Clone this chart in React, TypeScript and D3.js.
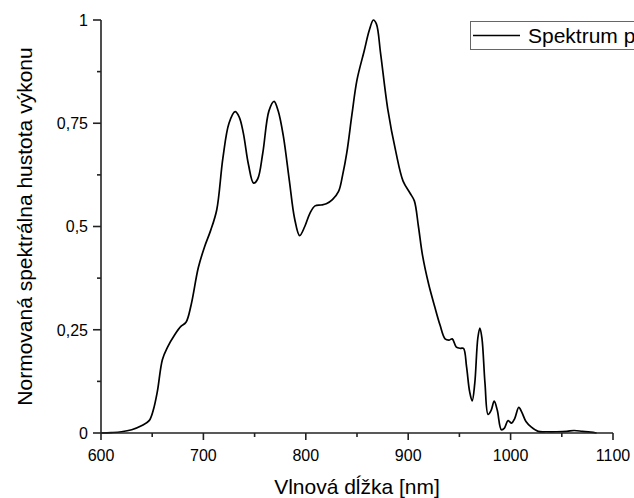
import React from "react";
import * as d3 from "d3";

const wavelengths = [
  600, 610, 620, 630, 640, 647, 651, 655, 660, 665, 672, 678, 683, 688, 695, 701, 707, 713, 719, 725,
  731, 735, 739, 744, 749, 753, 758, 764, 769, 773, 778, 784, 789, 794, 799, 804, 809, 815, 820, 826,
  832, 836, 840, 845, 850, 857, 862, 866, 869, 873, 880, 888, 895, 902, 906, 910, 914, 920, 926, 931, 936,
  940, 943, 947, 951, 954, 957, 960, 962.5, 965, 968, 970, 972, 975, 978, 981, 984, 987, 991, 994, 997.5,
  1001, 1004, 1008, 1011, 1015, 1020, 1027, 1035, 1045, 1055, 1062, 1070, 1078, 1084,
];
const power = [
  0.0, 0.001, 0.003, 0.008, 0.018, 0.03, 0.055, 0.1, 0.178, 0.208, 0.238, 0.258, 0.268, 0.31, 0.4, 0.45, 0.49, 0.54, 0.665, 0.75,
  0.778, 0.765, 0.726, 0.65, 0.605, 0.615, 0.678, 0.78, 0.803, 0.78, 0.72, 0.61, 0.52, 0.478, 0.5, 0.532, 0.55, 0.552, 0.555, 0.565,
  0.585, 0.625, 0.678, 0.77, 0.855, 0.925, 0.975, 1.0, 0.99, 0.92, 0.785, 0.68, 0.61, 0.58, 0.562, 0.5, 0.43, 0.36, 0.305, 0.262, 0.228,
  0.225, 0.228, 0.208, 0.205, 0.205, 0.16, 0.1, 0.078, 0.12, 0.23, 0.254, 0.23, 0.12, 0.045, 0.055, 0.077, 0.055, 0.008, 0.012, 0.03,
  0.024, 0.035, 0.062, 0.05, 0.028, 0.015, 0.004, 0.003, 0.003, 0.004, 0.006, 0.004, 0.002, 0.0,
];
const xTicks = [600, 700, 800, 900, 1000, 1100];
const xMinorTicks = [650, 750, 850, 950, 1050];
const yTicks = [0, 0.25, 0.5, 0.75, 1];
const yTickLabels = ["0", "0,25", "0,5", "0,75", "1"];
const yMinorTicks = [0.125, 0.375, 0.625, 0.875];
const xTitle = "Vlnová dĺžka [nm]";
const yTitle = "Normovaná spektrálna hustota výkonu";
const legendLabel = "Spektrum p";

const W = 634;
const H = 498;
const FONT = "'Liberation Sans', Arial, sans-serif";

export default function App() {
  const x = d3.scaleLinear().domain([600, 1100]).range([101, 613]);
  const y = d3.scaleLinear().domain([0, 1]).range([433, 20]);
  const pts = wavelengths.map((w, i) => [w, power[i]] as [number, number]);
  const line = d3
    .line<[number, number]>()
    .x((d) => x(d[0]))
    .y((d) => y(d[1]))
    .curve(d3.curveCatmullRom.alpha(0.5));
  const axisColor = "#222";
  return (
    <div style={{ position: "absolute", left: 0, top: 0 }}>
      <svg width={W} height={H} style={{ display: "block", background: "#fff" }}>
        <rect width={W} height={H} fill="#fff" />
        <path d={line(pts) || ""} fill="none" stroke="#000" strokeWidth={1.7} strokeLinejoin="round" />
        <line x1={x(600)} x2={x(1100)} y1={y(0)} y2={y(0)} stroke={axisColor} strokeWidth={1.6} />
        <line x1={x(600)} x2={x(600)} y1={y(0)} y2={y(1)} stroke={axisColor} strokeWidth={1.6} />
        {xTicks.map((t) => (
          <g key={"xt" + t}>
            <line x1={x(t)} x2={x(t)} y1={y(0)} y2={y(0) + 7} stroke={axisColor} strokeWidth={1.6} />
            <text x={x(t)} y={461} textAnchor="middle" fontFamily={FONT} fontSize={16} fill="#000">
              {t}
            </text>
          </g>
        ))}
        {xMinorTicks.map((t) => (
          <line key={"xm" + t} x1={x(t)} x2={x(t)} y1={y(0)} y2={y(0) + 4} stroke={axisColor} strokeWidth={1.6} />
        ))}
        {yTicks.map((t, i) => (
          <g key={"yt" + t}>
            <line x1={x(600) - 8} x2={x(600)} y1={y(t)} y2={y(t)} stroke={axisColor} strokeWidth={1.6} />
            <text x={88} y={y(t)} dy="0.36em" textAnchor="end" fontFamily={FONT} fontSize={16} fill="#000">
              {yTickLabels[i]}
            </text>
          </g>
        ))}
        {yMinorTicks.map((t) => (
          <line key={"ym" + t} x1={x(600) - 4} x2={x(600)} y1={y(t)} y2={y(t)} stroke={axisColor} strokeWidth={1.6} />
        ))}
        <text x={357} y={494} textAnchor="middle" fontFamily={FONT} fontSize={21} fill="#000">
          {xTitle}
        </text>
        <text
          transform={`translate(32, ${y(0.5)}) rotate(-90)`}
          textAnchor="middle"
          fontFamily={FONT}
          fontSize={21}
          fill="#000"
        >
          {yTitle}
        </text>
        <rect x={470.5} y={21.5} width={200} height={28} fill="#fff" stroke="#666" strokeWidth={1} />
        <line x1={473} x2={520} y1={35.5} y2={35.5} stroke="#000" strokeWidth={1.7} />
        <text x={528} y={43} fontFamily={FONT} fontSize={21} fill="#000">
          {legendLabel}
        </text>
      </svg>
    </div>
  );
}
